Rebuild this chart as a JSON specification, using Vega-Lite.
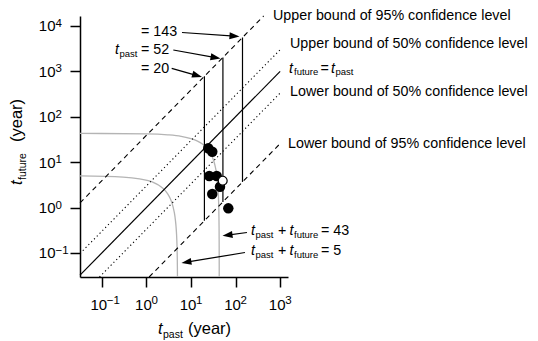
{
  "$schema": "https://vega.github.io/schema/vega-lite/v6.json",
  "width": 208,
  "height": 261,
  "autosize": {"type": "none"},
  "padding": {"left": 80, "top": 16, "right": 250, "bottom": 64},
  "background": "white",
  "config": {
    "view": {"stroke": null},
    "font": "Liberation Sans",
    "text": {"font": "Liberation Sans", "color": "black"},
    "axis": {
      "grid": false,
      "domainColor": "black",
      "domainWidth": 1.5,
      "tickColor": "black",
      "tickWidth": 1.5,
      "tickSize": 10,
      "labelFont": "Liberation Sans",
      "labelFontSize": 15,
      "labelColor": "black",
      "labelOverlap": false,
      "labelFlush": false,
      "labelBound": false
    }
  },
  "datasets": {
    "bounds": [
      {"id": "u95", "level": "95", "x": 0.03236, "y": 1.262},
      {"id": "u95", "level": "95", "x": 425.5, "y": 16596},
      {"id": "u50", "level": "50", "x": 0.03236, "y": 0.09708},
      {"id": "u50", "level": "50", "x": 1000, "y": 3000},
      {"id": "eq", "level": "eq", "x": 0.03236, "y": 0.03236},
      {"id": "eq", "level": "eq", "x": 1000, "y": 1000},
      {"id": "l50", "level": "50", "x": 0.08853, "y": 0.02951},
      {"id": "l50", "level": "50", "x": 1000, "y": 333.3},
      {"id": "l95", "level": "95", "x": 1.151, "y": 0.02951},
      {"id": "l95", "level": "95", "x": 1000, "y": 25.64}
    ],
    "sums": [
      {"total": 43, "x": 0.03236, "y": 42.968},
      {"total": 43, "x": 1, "y": 42},
      {"total": 43, "x": 3, "y": 40},
      {"total": 43, "x": 6, "y": 37},
      {"total": 43, "x": 10, "y": 33},
      {"total": 43, "x": 14, "y": 29},
      {"total": 43, "x": 18, "y": 25},
      {"total": 43, "x": 22, "y": 21},
      {"total": 43, "x": 26, "y": 17},
      {"total": 43, "x": 29, "y": 14},
      {"total": 43, "x": 32, "y": 11},
      {"total": 43, "x": 34.5, "y": 8.5},
      {"total": 43, "x": 36.5, "y": 6.5},
      {"total": 43, "x": 38, "y": 5},
      {"total": 43, "x": 39.3, "y": 3.7},
      {"total": 43, "x": 40.3, "y": 2.7},
      {"total": 43, "x": 41, "y": 2},
      {"total": 43, "x": 41.6, "y": 1.4},
      {"total": 43, "x": 42.1, "y": 0.9},
      {"total": 43, "x": 42.4, "y": 0.6},
      {"total": 43, "x": 42.65, "y": 0.35},
      {"total": 43, "x": 42.8, "y": 0.2},
      {"total": 43, "x": 42.9, "y": 0.1},
      {"total": 43, "x": 42.95, "y": 0.05},
      {"total": 43, "x": 42.97, "y": 0.0296},
      {"total": 5, "x": 0.03236, "y": 4.968},
      {"total": 5, "x": 0.3, "y": 4.7},
      {"total": 5, "x": 0.7, "y": 4.3},
      {"total": 5, "x": 1.1, "y": 3.9},
      {"total": 5, "x": 1.5, "y": 3.5},
      {"total": 5, "x": 1.9, "y": 3.1},
      {"total": 5, "x": 2.3, "y": 2.7},
      {"total": 5, "x": 2.7, "y": 2.3},
      {"total": 5, "x": 3.05, "y": 1.95},
      {"total": 5, "x": 3.4, "y": 1.6},
      {"total": 5, "x": 3.7, "y": 1.3},
      {"total": 5, "x": 4.0, "y": 1.0},
      {"total": 5, "x": 4.25, "y": 0.75},
      {"total": 5, "x": 4.45, "y": 0.55},
      {"total": 5, "x": 4.6, "y": 0.4},
      {"total": 5, "x": 4.75, "y": 0.25},
      {"total": 5, "x": 4.85, "y": 0.15},
      {"total": 5, "x": 4.92, "y": 0.08},
      {"total": 5, "x": 4.96, "y": 0.04},
      {"total": 5, "x": 4.9704, "y": 0.0296}
    ],
    "pastLines": [
      {"x": 20, "y": 0.5128, "y2": 780},
      {"x": 52, "y": 1.333, "y2": 2028},
      {"x": 143, "y": 3.667, "y2": 5577}
    ],
    "points": [
      {"x": 24.4, "y": 20.2},
      {"x": 30, "y": 17},
      {"x": 25.7, "y": 4.95},
      {"x": 37.7, "y": 4.95},
      {"x": 44.7, "y": 2.88},
      {"x": 30, "y": 1.99},
      {"x": 68.7, "y": 0.96}
    ],
    "openPoint": [
      {"x": 51.4, "y": 3.9}
    ],
    "arrows": [
      {"x": 94.6, "y": 5972, "x2": 6.28, "y2": 7187, "angle": 4},
      {"x": 35.62, "y": 2012, "x2": 4.009, "y2": 2958, "angle": 10.2},
      {"x": 13.77, "y": 807, "x2": 3.69, "y2": 1168.6, "angle": 16},
      {"x": 65.87, "y": 0.2471, "x2": 180.3, "y2": 0.2819, "angle": 172.3},
      {"x": 7.882, "y": 0.06251, "x2": 162.6, "y2": 0.1022, "angle": 170.6}
    ],
    "xExp": [
      {"text": "−1", "x": 0.1295, "y": 0.007691},
      {"text": "0", "x": 1.295, "y": 0.007691},
      {"text": "1", "x": 12.95, "y": 0.007691},
      {"text": "2", "x": 129.5, "y": 0.007691},
      {"text": "3", "x": 1295, "y": 0.007691}
    ],
    "yExp": [
      {"text": "−1", "x": 0.009128, "y": 0.095},
      {"text": "0", "x": 0.009128, "y": 0.95},
      {"text": "1", "x": 0.009128, "y": 9.5},
      {"text": "2", "x": 0.009128, "y": 95},
      {"text": "3", "x": 0.009128, "y": 950},
      {"text": "4", "x": 0.009128, "y": 9500}
    ],
    "annPlain": [
      {"text": "= 143", "x": 0.7557, "y": 6017},
      {"text": "= 52", "x": 0.7557, "y": 2414},
      {"text": "= 20", "x": 0.7557, "y": 944.6},
      {"text": "Upper bound of 95% confidence level", "x": 690.9, "y": 13550},
      {"text": "Upper bound of 50% confidence level", "x": 1662.5, "y": 3273},
      {"text": "=", "x": 8033, "y": 944.6},
      {"text": "Lower bound of 50% confidence level", "x": 1662.5, "y": 286.8},
      {"text": "Lower bound of 95% confidence level", "x": 1499.5, "y": 20.5},
      {"text": "+", "x": 894.4, "y": 0.2548},
      {"text": "= 43", "x": 8244, "y": 0.2548},
      {"text": "+", "x": 894.4, "y": 0.09239},
      {"text": "= 5", "x": 8244, "y": 0.09239}
    ],
    "annItalic": [
      {"text": "t", "x": 0.1973, "y": 2414},
      {"text": "t", "x": 1578.7, "y": 944.6},
      {"text": "t", "x": 13818, "y": 944.6},
      {"text": "t", "x": 221.8, "y": 0.2548},
      {"text": "t", "x": 1620.2, "y": 0.2548},
      {"text": "t", "x": 221.8, "y": 0.09239},
      {"text": "t", "x": 1620.2, "y": 0.09239}
    ],
    "annSub": [
      {"text": "past", "x": 0.2489, "y": 2074},
      {"text": "future", "x": 2044.5, "y": 811.3},
      {"text": "past", "x": 17433, "y": 811.3},
      {"text": "past", "x": 279.8, "y": 0.2188},
      {"text": "future", "x": 2044.5, "y": 0.2188},
      {"text": "past", "x": 279.8, "y": 0.07932},
      {"text": "future", "x": 2044.5, "y": 0.07932}
    ],
    "xTitleItalic": [{"text": "t", "x": 1.818, "y": 0.001637}],
    "xTitleSub": [{"text": "past", "x": 2.354, "y": 0.001371}],
    "xTitlePlain": [{"text": "(year)", "x": 8.565, "y": 0.001637}],
    "yTitleItalic": [{"text": "t", "x": 0.001618, "y": 3.139}],
    "yTitleSub": [{"text": "future", "x": 0.001939, "y": 4.045}],
    "yTitlePlain": [{"text": "(year)", "x": 0.001618, "y": 27.81}]
  },
  "encoding": {
    "x": {
      "field": "x",
      "type": "quantitative",
      "scale": {"type": "log", "domain": [0.03236, 1500], "nice": false, "zero": false},
      "axis": {
        "title": null,
        "values": [0.1, 1, 10, 100, 1000],
        "labelExpr": "'10'",
        "labelBaseline": "alphabetic",
        "labelPadding": 22,
        "labelOffset": -3.5
      }
    },
    "y": {
      "field": "y",
      "type": "quantitative",
      "scale": {"type": "log", "domain": [0.02951, 16596], "nice": false, "zero": false},
      "axis": {
        "title": null,
        "values": [0.1, 1, 10, 100, 1000, 10000],
        "labelExpr": "'10'",
        "labelBaseline": "middle",
        "labelPadding": 15
      }
    }
  },
  "layer": [
    {
      "data": {"name": "sums"},
      "mark": {"type": "line", "stroke": "#b4b4b4", "strokeWidth": 1.3, "interpolate": "monotone"},
      "encoding": {"detail": {"field": "total", "type": "nominal"}}
    },
    {
      "data": {"name": "bounds"},
      "transform": [{"filter": "datum.level == '95'"}],
      "mark": {"type": "line", "stroke": "black", "strokeWidth": 1.1, "strokeDash": [5, 4]},
      "encoding": {"detail": {"field": "id", "type": "nominal"}}
    },
    {
      "data": {"name": "bounds"},
      "transform": [{"filter": "datum.level == '50'"}],
      "mark": {"type": "line", "stroke": "black", "strokeWidth": 1.1, "strokeDash": [1.2, 2.8]},
      "encoding": {"detail": {"field": "id", "type": "nominal"}}
    },
    {
      "data": {"name": "bounds"},
      "transform": [{"filter": "datum.level == 'eq'"}],
      "mark": {"type": "line", "stroke": "black", "strokeWidth": 1.2},
      "encoding": {"detail": {"field": "id", "type": "nominal"}}
    },
    {
      "data": {"name": "pastLines"},
      "mark": {"type": "rule", "stroke": "black", "strokeWidth": 1.2},
      "encoding": {"y2": {"field": "y2"}}
    },
    {
      "data": {"name": "arrows"},
      "mark": {"type": "rule", "stroke": "black", "strokeWidth": 1.2},
      "encoding": {"x2": {"field": "x2"}, "y2": {"field": "y2"}}
    },
    {
      "data": {"name": "arrows"},
      "mark": {"type": "point", "shape": "M1,0L-1,-0.7L-1,0.7Z", "filled": true, "fill": "black", "opacity": 1, "size": 100, "strokeWidth": 0},
      "encoding": {"angle": {"field": "angle", "type": "quantitative", "scale": null}}
    },
    {
      "data": {"name": "points"},
      "mark": {"type": "circle", "fill": "black", "opacity": 1, "size": 110}
    },
    {
      "data": {"name": "openPoint"},
      "mark": {"type": "point", "shape": "circle", "filled": true, "fill": "white", "stroke": "black", "strokeWidth": 1.2, "opacity": 1, "size": 80}
    },
    {
      "data": {"name": "xExp"},
      "mark": {"type": "text", "align": "left", "baseline": "alphabetic", "fontSize": 11.5, "clip": false},
      "encoding": {"text": {"field": "text"}}
    },
    {
      "data": {"name": "yExp"},
      "mark": {"type": "text", "align": "left", "baseline": "alphabetic", "fontSize": 11.5, "clip": false},
      "encoding": {"text": {"field": "text"}}
    },
    {
      "data": {"name": "annPlain"},
      "mark": {"type": "text", "align": "left", "baseline": "alphabetic", "fontSize": 14.3, "clip": false},
      "encoding": {"text": {"field": "text"}}
    },
    {
      "data": {"name": "annItalic"},
      "mark": {"type": "text", "align": "left", "baseline": "alphabetic", "fontSize": 14.3, "fontStyle": "italic", "clip": false},
      "encoding": {"text": {"field": "text"}}
    },
    {
      "data": {"name": "annSub"},
      "mark": {"type": "text", "align": "left", "baseline": "alphabetic", "fontSize": 9.5, "clip": false},
      "encoding": {"text": {"field": "text"}}
    },
    {
      "data": {"name": "xTitlePlain"},
      "mark": {"type": "text", "align": "left", "baseline": "alphabetic", "fontSize": 16.5, "clip": false},
      "encoding": {"text": {"field": "text"}}
    },
    {
      "data": {"name": "xTitleItalic"},
      "mark": {"type": "text", "align": "left", "baseline": "alphabetic", "fontSize": 16.5, "fontStyle": "italic", "clip": false},
      "encoding": {"text": {"field": "text"}}
    },
    {
      "data": {"name": "xTitleSub"},
      "mark": {"type": "text", "align": "left", "baseline": "alphabetic", "fontSize": 10.5, "clip": false},
      "encoding": {"text": {"field": "text"}}
    },
    {
      "data": {"name": "yTitlePlain"},
      "mark": {"type": "text", "align": "left", "baseline": "alphabetic", "fontSize": 16.5, "angle": 270, "clip": false},
      "encoding": {"text": {"field": "text"}}
    },
    {
      "data": {"name": "yTitleItalic"},
      "mark": {"type": "text", "align": "left", "baseline": "alphabetic", "fontSize": 16.5, "fontStyle": "italic", "angle": 270, "clip": false},
      "encoding": {"text": {"field": "text"}}
    },
    {
      "data": {"name": "yTitleSub"},
      "mark": {"type": "text", "align": "left", "baseline": "alphabetic", "fontSize": 10.5, "angle": 270, "clip": false},
      "encoding": {"text": {"field": "text"}}
    }
  ]
}
